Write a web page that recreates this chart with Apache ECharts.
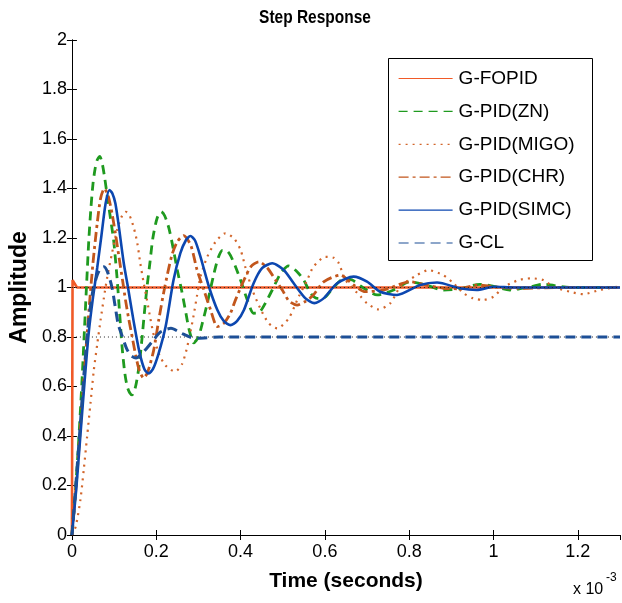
<!DOCTYPE html>
<html>
<head>
<meta charset="utf-8">
<script src="https://cdn.jsdelivr.net/npm/echarts@6/dist/echarts.min.js"></script>
<style>
html,body{margin:0;padding:0;background:#fff;}
#chart{width:622px;height:603px;}
</style>
</head>
<body>
<div id="chart"></div>
<script>
// time in units of 1e-3 s, amplitude
const xTicks = [0, 0.2, 0.4, 0.6, 0.8, 1, 1.2];
const yTicks = [0, 0.2, 0.4, 0.6, 0.8, 1, 1.2, 1.4, 1.6, 1.8, 2];
const seriesNames = ['G-FOPID', 'G-PID(ZN)', 'G-PID(MIGO)', 'G-PID(CHR)', 'G-PID(SIMC)', 'G-CL'];

const fopid = [[0,0],[0.0015,1.03],[0.006,1.03],[0.012,1.0],[0.1,1.0],[1.3,1.0]];

const zn = [[0,0],[0.005,0.1],[0.01,0.22],[0.015,0.35],[0.02,0.5],[0.025,0.66],[0.03,0.84],[0.035,1.02],
 [0.04,1.19],[0.045,1.32],[0.05,1.42],[0.055,1.48],[0.06,1.515],[0.066,1.53],[0.072,1.5],[0.078,1.44],
 [0.084,1.367],[0.092,1.273],[0.099,1.19],[0.107,1.04],[0.113,0.9],[0.119,0.76],[0.125,0.66],[0.131,0.6],
 [0.137,0.575],[0.143,0.566],[0.151,0.6],[0.159,0.68],[0.166,0.79],[0.172,0.9],[0.178,1.0],[0.185,1.1],
 [0.192,1.2],[0.202,1.28],[0.212,1.306],[0.22,1.29],[0.23,1.24],[0.24,1.16],[0.25,1.07],[0.26,0.99],
 [0.27,0.9],[0.278,0.83],[0.289,0.776],[0.3,0.8],[0.31,0.86],[0.321,0.936],[0.337,1.057],[0.347,1.12],
 [0.357,1.15],[0.368,1.148],[0.376,1.13],[0.388,1.084],[0.4,1.03],[0.416,0.95],[0.431,0.896],[0.445,0.9],
 [0.463,0.95],[0.479,1.003],[0.495,1.057],[0.514,1.087],[0.534,1.064],[0.55,1.03],[0.566,0.977],
 [0.582,0.956],[0.6,0.96],[0.62,1.0],[0.645,1.035],[0.665,1.03],[0.69,1.0],[0.724,0.97],[0.763,0.99],
 [0.802,1.023],[0.84,1.01],[0.881,0.99],[0.92,0.995],[0.968,1.013],[1.0,1.005],[1.039,0.99],[1.08,1.0],
 [1.118,1.013],[1.18,1.0],[1.3,1.0]];

const migo = [[0,0],[0.009,0.034],[0.02,0.141],[0.028,0.263],[0.036,0.397],[0.044,0.532],[0.052,0.667],
 [0.06,0.77],[0.068,0.869],[0.076,0.96],[0.084,1.044],[0.095,1.138],[0.107,1.232],[0.119,1.29],
 [0.128,1.306],[0.137,1.29],[0.147,1.24],[0.155,1.18],[0.162,1.1],[0.17,1.02],[0.178,0.95],[0.186,0.875],
 [0.195,0.8],[0.206,0.734],[0.222,0.685],[0.245,0.66],[0.261,0.69],[0.272,0.75],[0.281,0.82],[0.289,0.89],
 [0.297,0.97],[0.305,1.044],[0.321,1.124],[0.341,1.185],[0.364,1.219],[0.384,1.199],[0.4,1.152],
 [0.412,1.078],[0.428,0.99],[0.447,0.915],[0.467,0.855],[0.487,0.835],[0.514,0.875],[0.538,0.963],
 [0.558,1.03],[0.573,1.084],[0.601,1.124],[0.621,1.12],[0.633,1.098],[0.649,1.03],[0.684,0.965],
 [0.7,0.936],[0.727,0.912],[0.755,0.936],[0.779,1.003],[0.818,1.05],[0.846,1.07],[0.881,1.05],
 [0.905,1.017],[0.929,0.977],[0.952,0.956],[0.976,0.95],[1.0,0.963],[1.023,1.0],[1.059,1.03],
 [1.09,1.037],[1.118,1.03],[1.142,1.003],[1.181,0.983],[1.213,0.973],[1.252,0.99],[1.3,1.005]];

const chr = [[0,0],[0.01,0.2],[0.02,0.43],[0.03,0.67],[0.04,0.9],[0.05,1.1],[0.06,1.26],[0.068,1.36],
 [0.077,1.4],[0.086,1.37],[0.095,1.3],[0.103,1.22],[0.111,1.13],[0.12,1.03],[0.127,0.95],[0.135,0.87],
 [0.143,0.8],[0.152,0.72],[0.16,0.665],[0.17,0.634],[0.18,0.66],[0.194,0.747],[0.206,0.87],[0.22,1.0],
 [0.237,1.13],[0.25,1.185],[0.265,1.21],[0.282,1.17],[0.297,1.07],[0.313,0.99],[0.329,0.909],
 [0.345,0.842],[0.36,0.855],[0.376,0.896],[0.388,0.95],[0.408,1.03],[0.425,1.085],[0.443,1.104],
 [0.463,1.08],[0.483,1.03],[0.499,0.99],[0.515,0.945],[0.534,0.929],[0.555,0.945],[0.573,0.97],
 [0.597,1.023],[0.637,1.05],[0.668,1.01],[0.696,0.983],[0.74,0.99],[0.802,1.023],[0.84,1.01],
 [0.881,0.997],[0.92,0.995],[0.96,1.01],[1.02,1.0],[1.07,0.997],[1.15,1.0],[1.3,1.0]];

const simc = [[0,0],[0.01,0.18],[0.02,0.4],[0.03,0.62],[0.04,0.82],[0.05,0.96],[0.06,1.08],[0.07,1.21],
 [0.08,1.34],[0.089,1.394],[0.096,1.38],[0.103,1.34],[0.111,1.25],[0.123,1.098],[0.133,1.0],[0.147,0.857],
 [0.16,0.74],[0.172,0.67],[0.182,0.653],[0.192,0.67],[0.205,0.73],[0.222,0.84],[0.241,1.03],[0.257,1.138],
 [0.27,1.19],[0.281,1.208],[0.292,1.19],[0.305,1.124],[0.325,1.003],[0.345,0.909],[0.36,0.865],
 [0.376,0.848],[0.392,0.865],[0.408,0.909],[0.431,1.017],[0.451,1.078],[0.475,1.098],[0.503,1.07],
 [0.526,1.017],[0.554,0.956],[0.575,0.937],[0.597,0.956],[0.629,1.017],[0.668,1.044],[0.7,1.024],
 [0.731,0.983],[0.771,0.97],[0.826,1.01],[0.866,1.02],[0.92,0.997],[0.96,0.99],[1.0,1.003],[1.05,1.0],[1.3,1.0]];

const gcl = [[0,0],[0.01,0.22],[0.02,0.45],[0.03,0.68],[0.04,0.87],[0.05,0.99],[0.06,1.05],[0.068,1.078],
 [0.076,1.084],[0.085,1.06],[0.095,1.0],[0.103,0.92],[0.11,0.85],[0.12,0.8],[0.13,0.752],[0.14,0.725],
 [0.152,0.715],[0.17,0.74],[0.19,0.78],[0.21,0.82],[0.235,0.835],[0.26,0.815],[0.28,0.8],[0.3,0.795],
 [0.35,0.8],[1.3,0.8]];

const refHigh = [[0,1],[1.3,1]];
const refLow = [[0,0.8],[1.3,0.8]];

const chart = echarts.init(document.getElementById('chart'), null, {renderer:'canvas'});
const FONT = 'Liberation Sans, Arial, sans-serif';

function lineSeries(name, data, color, width, type, z){
  return {name, type:'line', data, showSymbol:false, symbol:'none', smooth:0.25,
    lineStyle:{color, width, type}, itemStyle:{color}, z, animation:false};
}

const option = {
  animation:false,
  backgroundColor:'#fff',
  grid:{left:71, top:40, right:2, bottom:68, show:false},
  legend:{
    data:seriesNames, orient:'vertical', left:388, top:58, z:20,
    padding:[11,10,7,10], itemWidth:54, itemHeight:20, itemGap:13.9,
    textStyle:{fontFamily:FONT, fontSize:19, color:'#000', padding:[0,0,0,1]},
    lineStyle:{width:1.2}, itemStyle:{opacity:0}, selectedMode:false
  },
  graphic:[
    {type:'text', x:315, y:18, scaleX:0.86, z:20,
      style:{text:'Step Response', font:'bold 18px Liberation Sans, Arial, sans-serif', fill:'#000',
        align:'center', verticalAlign:'middle'}},
    {type:'rect', left:388, top:58, z:15,
      shape:{width:204, height:202}, style:{fill:'#fff', stroke:'#000', lineWidth:1}},
    {type:'text', left:573, top:582, z:20,
      style:{text:'x 10', font:'16px Liberation Sans, Arial, sans-serif', fill:'#000'}},
    {type:'text', left:606, top:572, z:20,
      style:{text:'-3', font:'12px Liberation Sans, Arial, sans-serif', fill:'#000'}}
  ],
  xAxis:[{
    type:'value', min:0, max:1.3, interval:0.2,
    name:'Time (seconds)', nameLocation:'middle', nameGap:36,
    nameTextStyle:{fontFamily:FONT, fontWeight:'bold', fontSize:21, color:'#000'},
    axisLine:{show:true, lineStyle:{color:'#000', width:1}},
    axisTick:{show:true, inside:true, length:5, lineStyle:{color:'#000'}},
    axisLabel:{fontFamily:FONT, fontSize:18, color:'#000', margin:8, showMaxLabel:false,
      formatter:v => (Math.abs(v-1.3)<1e-9 ? '' : String(+v.toFixed(1)))},
    splitLine:{show:false}
  },{
    type:'value', min:0, max:1.3, interval:0.2, position:'top',
    axisLine:{show:true, lineStyle:{color:'#000', width:1}},
    axisTick:{show:true, inside:true, length:5, lineStyle:{color:'#000'}},
    axisLabel:{show:false}, splitLine:{show:false}
  }],
  yAxis:[{
    type:'value', min:0, max:2, interval:0.2,
    name:'Amplitude', nameLocation:'middle', nameGap:40, nameRotate:90,
    nameTextStyle:{fontFamily:FONT, fontWeight:'bold', fontSize:23, color:'#000'},
    axisLine:{show:true, lineStyle:{color:'#000', width:1}},
    axisTick:{show:true, inside:true, length:5, lineStyle:{color:'#000'}},
    axisLabel:{fontFamily:FONT, fontSize:18, color:'#000', margin:5,
      formatter:v => String(+v.toFixed(1))},
    splitLine:{show:false}
  },{
    type:'value', min:0, max:2, interval:0.2, position:'right',
    axisLine:{show:true, lineStyle:{color:'#000', width:1}},
    axisTick:{show:true, inside:true, length:5, lineStyle:{color:'#000'}},
    axisLabel:{show:false}, splitLine:{show:false}
  }],
  series:[
    Object.assign(lineSeries('G-FOPID', fopid, '#f05a28', 2.6, 'solid', 3), {smooth:false}),
    {name:'ref1', type:'line', data:refHigh, showSymbol:false, symbol:'none', silent:true, z:4,
      lineStyle:{color:'#222', width:1, type:[1,3]}, animation:false},
    {name:'ref2', type:'line', data:refLow, showSymbol:false, symbol:'none', silent:true, z:1,
      lineStyle:{color:'#222', width:1, type:[1,3]}, animation:false},
    lineSeries('G-PID(ZN)', zn, '#1f9a1f', 2.8, [9,6], 3),
    lineSeries('G-PID(MIGO)', migo, '#d2652a', 2.2, [2,5], 3),
    lineSeries('G-PID(CHR)', chr, '#c2561c', 2.8, [10,4,3,4], 3),
    lineSeries('G-PID(SIMC)', simc, '#0c47b0', 2.6, 'solid', 3),
    lineSeries('G-CL', gcl, '#1d4f96', 3, [10,6], 3)
  ]
};
chart.setOption(option);
</script>
</body>
</html>
